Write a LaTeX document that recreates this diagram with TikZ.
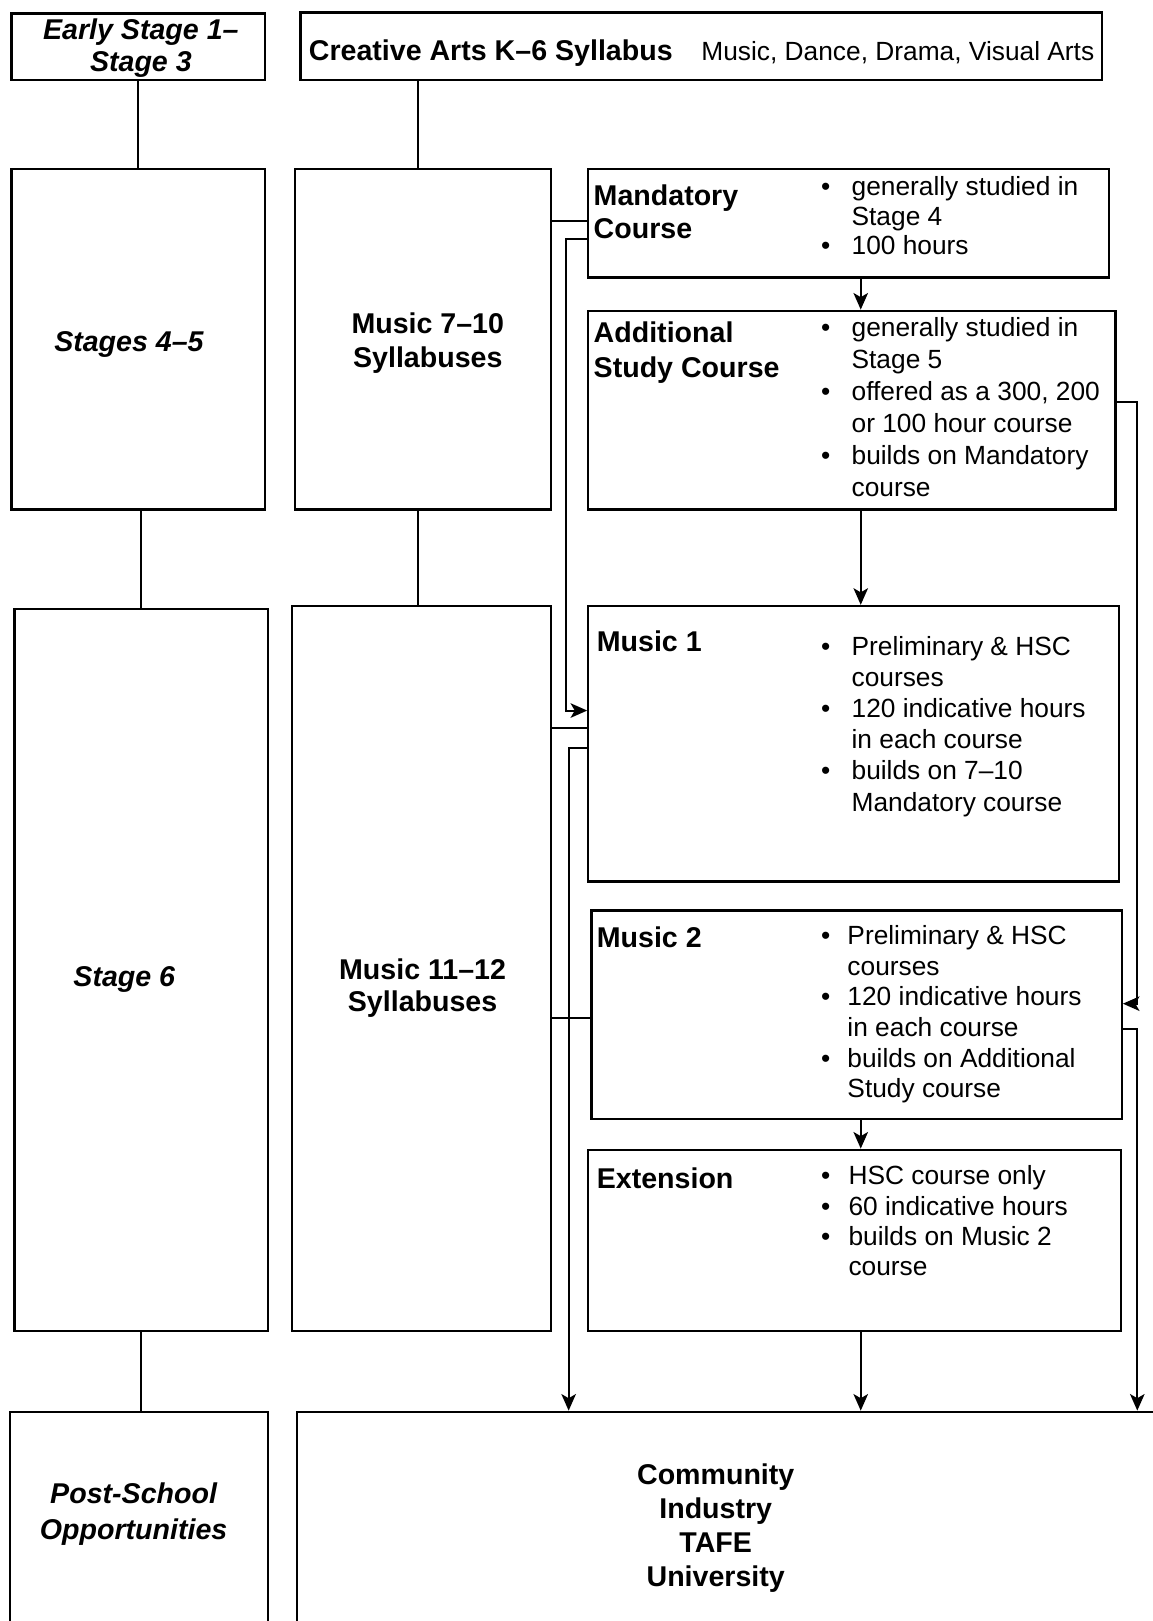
\documentclass[tikz,border=0pt]{standalone}
\usepackage{fontspec}
\setmainfont{Liberation Sans}
\usetikzlibrary{arrows.meta}

\newcommand\lines[2]{\begin{tabular}[t]{@{}#1@{}}#2\end{tabular}}
\newcommand\bullets[2]{\begin{tabular}[t]{@{}p{#1}@{}l@{}}#2\end{tabular}}

\begin{document}
\begin{tikzpicture}[x=1pt,y=-1pt,
        box/.style={draw,line width=2.2pt,inner sep=0pt},
        stage/.style={anchor=base,inner sep=0pt,font=\fontsize{27.6}{#1}\selectfont\bfseries\itshape},
        stage/.default=33,
        title/.style={anchor=base,inner sep=0pt,font=\fontsize{27.6}{#1}\selectfont\bfseries},
        title/.default=33,
        head/.style={anchor=base west,inner sep=0pt,font=\fontsize{27.6}{#1}\selectfont\bfseries},
        head/.default=33,
        items/.style={anchor=base west,inner sep=0pt,font=\fontsize{25.4}{#1}\selectfont},
        items/.default=30,
        link/.style={line width=2pt},
        arr/.style={link,-{Stealth[length=16pt,width=14pt,inset=4pt]}}]

    \useasboundingbox (0,0) rectangle (1113,1565);

    \node[box,minimum width=245,minimum height=64]  (early)    at (133.5,45)    {};
    \node[box,minimum width=774,minimum height=65]  (creative) at (677,44.5)    {};
    \node[box,minimum width=245,minimum height=329] (st45)     at (133.5,327.5) {};
    \node[box,minimum width=247,minimum height=329] (m710)     at (408.5,327.5) {};
    \node[box,minimum width=503,minimum height=105] (mand)     at (819.5,215.5) {};
    \node[box,minimum width=509,minimum height=192] (addl)     at (822.5,396)   {};
    \node[box,minimum width=245,minimum height=697] (st6)      at (136.5,936.5) {};
    \node[box,minimum width=250,minimum height=700] (m1112)    at (407,935)     {};
    \node[box,minimum width=512,minimum height=266] (mus1)     at (824,718)     {};
    \node[box,minimum width=512,minimum height=201] (mus2)     at (827,979.5)   {};
    \node[box,minimum width=514,minimum height=175] (ext)      at (825,1197.5)  {};
    \node[box,minimum width=249,minimum height=337] (post)     at (134.5,1531.5) {};
    \node[box,minimum width=913,minimum height=337] (comm)     at (743.5,1531.5) {};

    \node[stage=31] (earlyt) at (136,38)    {\lines{c}{Early Stage 1–\\Stage 3}};
    \node[stage]    (st45t)  at (124.5,339) {Stages 4–5};
    \node[stage]    (st6t)   at (120,952)   {Stage 6};
    \node[stage=34] (postt)  at (129,1452)  {\lines{c}{Post-School\\Opportunities}};

    \node[head]  (crt)    at (298,58)    {Creative Arts K–6 Syllabus};
    \node[items] (crs)    at (677,58)    {Music, Dance, Drama, Visual Arts};
    \node[title] (m710t)  at (413,322)   {\lines{c}{Music 7–10\\Syllabuses}};
    \node[title=31] (m1112t) at (408,946) {\lines{c}{Music 11–12\\Syllabuses}};
    \node[title] (commt)  at (691,1433)  {\lines{c}{Community\\Industry\\TAFE\\University}};

    \node[head=32] (mandh) at (573,198)  {\lines{l}{Mandatory\\Course}};
    \node[head]    (addlh) at (573,331)  {\lines{l}{Additional\\Study Course}};
    \node[head]    (mus1h) at (576,629)  {Music 1};
    \node[head]    (mus2h) at (576,915)  {Music 2};
    \node[head]    (exth)  at (576,1147) {Extension};

    \node[items=28.5] (mandl) at (792.5,189) {\bullets{29.5pt}{\textbullet & generally studied in\\ & Stage 4\\ \textbullet & 100 hours}};
    \node[items=30.9] (addll) at (792.5,325) {\bullets{29.5pt}{\textbullet & generally studied in\\ & Stage 5\\ \textbullet & offered as a 300, 200\\ & or 100 hour course\\ \textbullet & builds on Mandatory\\ & course}};
    \node[items=30]   (mus1l) at (792.5,633) {\bullets{29.5pt}{\textbullet & Preliminary \& HSC\\ & courses\\ \textbullet & 120 indicative hours\\ & in each course\\ \textbullet & builds on 7–10\\ & Mandatory course}};
    \node[items=29.6] (mus2l) at (792.5,912) {\bullets{25.5pt}{\textbullet & Preliminary \& HSC\\ & courses\\ \textbullet & 120 indicative hours\\ & in each course\\ \textbullet & builds on Additional\\ & Study course}};
    \node[items=29.3] (extl)  at (792.5,1144) {\bullets{26.5pt}{\textbullet & HSC course only\\ \textbullet & 60 indicative hours\\ \textbullet & builds on Music 2\\ & course}};

    \coordinate (mid) at (831,0);
    \coordinate (top) at (404,0);

    \draw[link] (early) -- (st45);
    \draw[link] (top |- m710.north) -- (top |- creative.south);
    \draw[link] (st6.north) -- (st6.north |- st45.south);
    \draw[link] (top |- m1112.north) -- (top |- m710.south);
    \draw[link] (st6.south) -- (st6.south |- post.north);

    \draw[arr] (mand.south -| mid) -- (addl.north -| mid);
    \draw[arr] (addl.south -| mid) -- (mus1.north -| mid);
    \draw[arr] (mus2.south -| mid) -- (ext.north -| mid);
    \draw[arr] (ext.south -| mid) -- (comm.north -| mid);

    \draw[link] (m710.east |- 0,213) -- (mand.west |- 0,213);
    \draw[link] (m1112.east |- 0,703) -- (mus1.west |- 0,703);
    \draw[link] (m1112.east |- 0,983) -- (mus2.west |- 0,983);

    \draw[arr] (mand.west |- 0,231) -| (546,686) -- (mus1.west |- 0,686);
    \draw[arr] (mus1.west |- 0,722) -| (549,0 |- comm.north);
    \draw[arr] (addl.east |- 0,388) -| (1098,969) -- (mus2.east |- 0,969);
    \draw[arr] (mus2.east |- 0,993) -| (1098,0 |- comm.north);
\end{tikzpicture}
\end{document}
